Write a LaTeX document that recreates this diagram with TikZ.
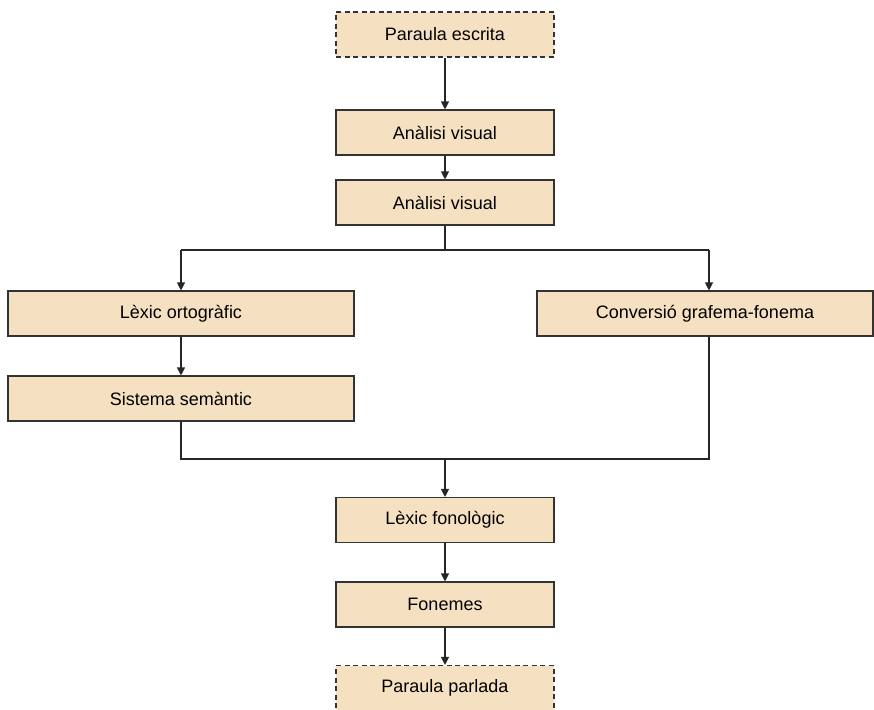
\documentclass[tikz,border=0pt]{standalone}
\usepackage{fontspec}
\setmainfont{Liberation Sans}
\usetikzlibrary{arrows.meta}
\definecolor{boxfill}{HTML}{F5E1C1}
\definecolor{edge}{HTML}{333333}
\begin{document}
\begin{tikzpicture}[x=1pt,y=-1pt,
  stepbox/.style={draw=edge, line width=1.1pt, fill=boxfill, minimum height=45pt, inner sep=0pt, font=\fontsize{18}{22}\selectfont},
  dashbox/.style={stepbox, dash pattern=on 5pt off 3.5pt},
  conn/.style={draw=black!85, line width=1.1pt},
  arr/.style={conn, -{Triangle[length=8pt,width=8pt]}}]
\useasboundingbox (0,0) rectangle (874,709);
\node[dashbox, minimum width=218pt] (pe) at (445,34.5) {Paraula escrita};
\node[stepbox, minimum width=218pt] (av1) at (445,132.5) {Anàlisi visual};
\node[stepbox, minimum width=218pt] (av2) at (445,202.5) {Anàlisi visual};
\node[stepbox, minimum width=346pt] (lo) at (181,313.5) {Lèxic ortogràfic};
\node[stepbox, minimum width=336pt] (cg) at (705,313.5) {Conversió grafema-fonema};
\node[stepbox, minimum width=346pt] (ss) at (181,398.5) {Sistema semàntic};
\node[stepbox, minimum width=218pt] (lf) at (445,520) {Lèxic fonològic};
\node[stepbox, minimum width=218pt] (fo) at (445,604.5) {Fonemes};
\node[dashbox, minimum width=218pt] (pp) at (445,688) {Paraula parlada};
\coordinate (split) at (445,250);
\coordinate (sl) at (181,250);
\coordinate (sr) at (709,250);
\coordinate (ml) at (181,459);
\coordinate (mr) at (709,459);
\coordinate (mc) at (445,459);
\draw[arr] (pe) -- (av1);
\draw[arr] (av1) -- (av2);
\draw[conn] (av2.south) -- (split);
\draw[arr] (sl) -- (lo.north);
\draw[arr] (sr) -- (sr |- cg.north);
\draw[conn] (sl) -- (sr);
\draw[arr] (lo) -- (ss);
\draw[conn] (ss.south) -- (ml) -- (mr) -- (mr |- cg.south);
\draw[arr] (mc) -- (lf.north);
\draw[arr] (lf) -- (fo);
\draw[arr] (fo) -- (pp);
\end{tikzpicture}
\end{document}
